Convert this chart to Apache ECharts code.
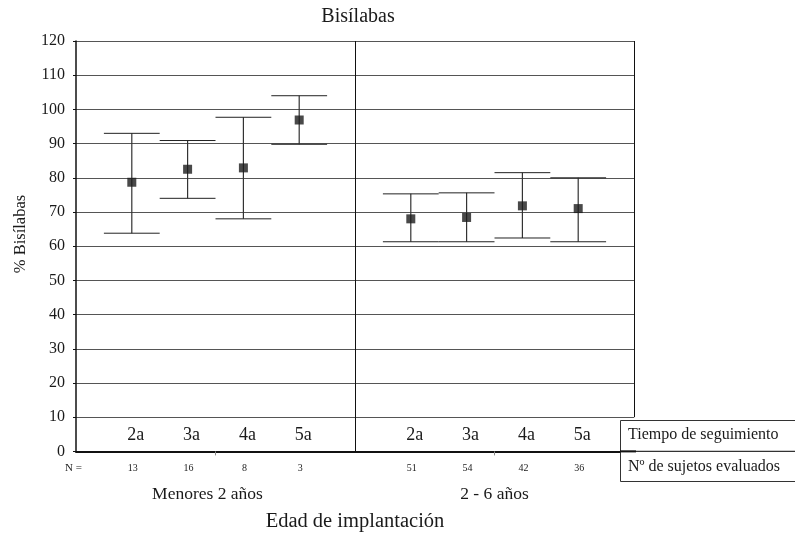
<!DOCTYPE html>
<html>
<head>
<meta charset="utf-8">
<script src="https://cdn.jsdelivr.net/npm/echarts@6/dist/echarts.min.js"></script>
<style>html,body{margin:0;padding:0;background:#fff}#c{width:795px;height:536px}</style>
</head>
<body>
<div id="c"></div>
<script>
// ---- data ----
const groups = ['Menores 2 años', '2 - 6 años'];
const tiempos = ['2a', '3a', '4a', '5a'];
const means = [78.7, 82.5, 82.9, 96.9, 68.0, 68.4, 71.8, 71.0];
const upper = [93.0, 90.9, 97.7, 104.0, 75.3, 75.6, 81.5, 80.0];
const lower = [63.8, 74.0, 68.0, 89.8, 61.3, 61.3, 62.4, 61.3];
const nSujetos = [13, 16, 8, 3, 51, 54, 42, 36];
const yMin = 0, yMax = 120, yStep = 10;

// slot on x value axis: each group takes 5 units, items at 1..4
const perGroup = tiempos.length + 1;
const slots = means.map((_, i) => Math.floor(i / tiempos.length) * perGroup + (i % tiempos.length) + 1);
const xMax = groups.length * perGroup;

const FONT = '"Liberation Serif", "DejaVu Serif", serif';
const chart = echarts.init(document.getElementById('c'));

const errData = slots.map((x, i) => [x, lower[i], upper[i]]);
const meanData = slots.map((x, i) => [x, means[i]]);

chart.setOption({
  animation: false,
  grid: { left: 76, top: 41, right: 161, bottom: 84.6, containLabel: false },
  xAxis: {
    type: 'value', min: 0, max: xMax,
    axisLine: { show: true, lineStyle: { color: '#111', width: 2 } },
    axisTick: { show: true, customValues: [perGroup / 2, perGroup * 1.5], length: 4, lineStyle: { color: '#888' } },
    axisLabel: { show: false },
    splitLine: { show: false }
  },
  yAxis: {
    type: 'value', min: yMin, max: yMax, interval: yStep,
    axisLine: { show: true, lineStyle: { color: '#111', width: 1.5 } },
    axisTick: { show: true, length: 3, lineStyle: { color: '#111' } },
    axisLabel: { fontFamily: FONT, fontSize: 16, color: '#1a1a1a', margin: 11 },
    splitLine: { show: true, lineStyle: { color: '#555', width: 1 } }
  },
  series: [
    {
      type: 'custom',
      data: errData,
      renderItem: function (params, api) {
        const x = api.value(0), lo = api.value(1), hi = api.value(2);
        const pt = api.coord([x, hi]), pb = api.coord([x, lo]);
        const half = api.size([1, 0])[0] * 0.5;
        const st = { stroke: '#222', lineWidth: 1 };
        return {
          type: 'group',
          children: [
            { type: 'line', shape: { x1: pt[0], y1: pt[1], x2: pb[0], y2: pb[1] }, style: { stroke: '#333', lineWidth: 1.2 } },
            { type: 'line', shape: { x1: pt[0] - half, y1: pt[1], x2: pt[0] + half, y2: pt[1] }, style: st },
            { type: 'line', shape: { x1: pb[0] - half, y1: pb[1], x2: pb[0] + half, y2: pb[1] }, style: st }
          ]
        };
      },
      markLine: {
        silent: true, symbol: 'none', label: { show: false },
        lineStyle: { color: '#111', width: 1, type: 'solid' },
        data: [
          [{ coord: [perGroup, yMin] }, { coord: [perGroup, yMax] }],
          [{ coord: [xMax, yStep] }, { coord: [xMax, yMax] }]
        ]
      },
      z: 3
    },
    {
      type: 'scatter',
      data: meanData,
      symbol: 'rect',
      symbolSize: 9,
      itemStyle: { color: '#1c1c1c' },
      z: 4
    }
  ]
});

// ---- texts positioned through the axes ----
const g = [];
const txt = (x, y, text, size, extra) => Object.assign({
  type: 'text', x: x, y: y, silent: true,
  style: { text: text, font: size + 'px ' + FONT, fill: '#1a1a1a', align: 'center', verticalAlign: 'middle', textAlign: 'center', textVerticalAlign: 'middle' }
}, extra || {});

slots.forEach((x, i) => {
  const p = chart.convertToPixel({ gridIndex: 0 }, [x, 0]);
  g.push(txt(p[0] + 4, p[1] - 16, tiempos[i % tiempos.length], 18));
  g.push(txt(p[0] + 1, p[1] + 17, String(nSujetos[i]), 10));
});
groups.forEach((name, gi) => {
  const p = chart.convertToPixel({ gridIndex: 0 }, [gi * perGroup + perGroup / 2, 0]);
  g.push(txt(p[0] - (gi === 0 ? 8 : 0), p[1] + 43, name, 17.5));
});
const p0 = chart.convertToPixel({ gridIndex: 0 }, [0, 0]);
const nl = txt(p0[0] + 6, p0[1] + 17, 'N =', 11, {});
nl.style.align = 'right'; nl.style.textAlign = 'right';
g.push(nl);

g.push(txt(358, 17, 'Bisílabas', 20));
g.push(txt(355, 522, 'Edad de implantación', 20.5));
g.push(txt(21, 234, '% Bisílabas', 16.5, { rotation: Math.PI / 2 }));

// legend-like box at right
g.push({ type: 'rect', shape: { x: 620.5, y: 420.5, width: 200, height: 61 }, style: { fill: '#fff', stroke: '#333', lineWidth: 1 }, z: 10 });
g.push({ type: 'line', shape: { x1: 620, y1: p0[1], x2: 800, y2: p0[1] }, style: { stroke: '#333', lineWidth: 1.2 }, z: 11 });
g.push({ type: 'line', shape: { x1: 620, y1: p0[1], x2: 636, y2: p0[1] }, style: { stroke: '#111', lineWidth: 2 }, z: 11 });
const t1 = txt(628, 435, 'Tiempo de seguimiento', 16, { z: 12 }); t1.style.align = 'left'; t1.style.textAlign = 'left';
const t2 = txt(628, 467, 'Nº de sujetos evaluados', 16, { z: 12 }); t2.style.align = 'left'; t2.style.textAlign = 'left';
g.push(t1, t2);

chart.setOption({ graphic: g });
</script>
</body>
</html>
